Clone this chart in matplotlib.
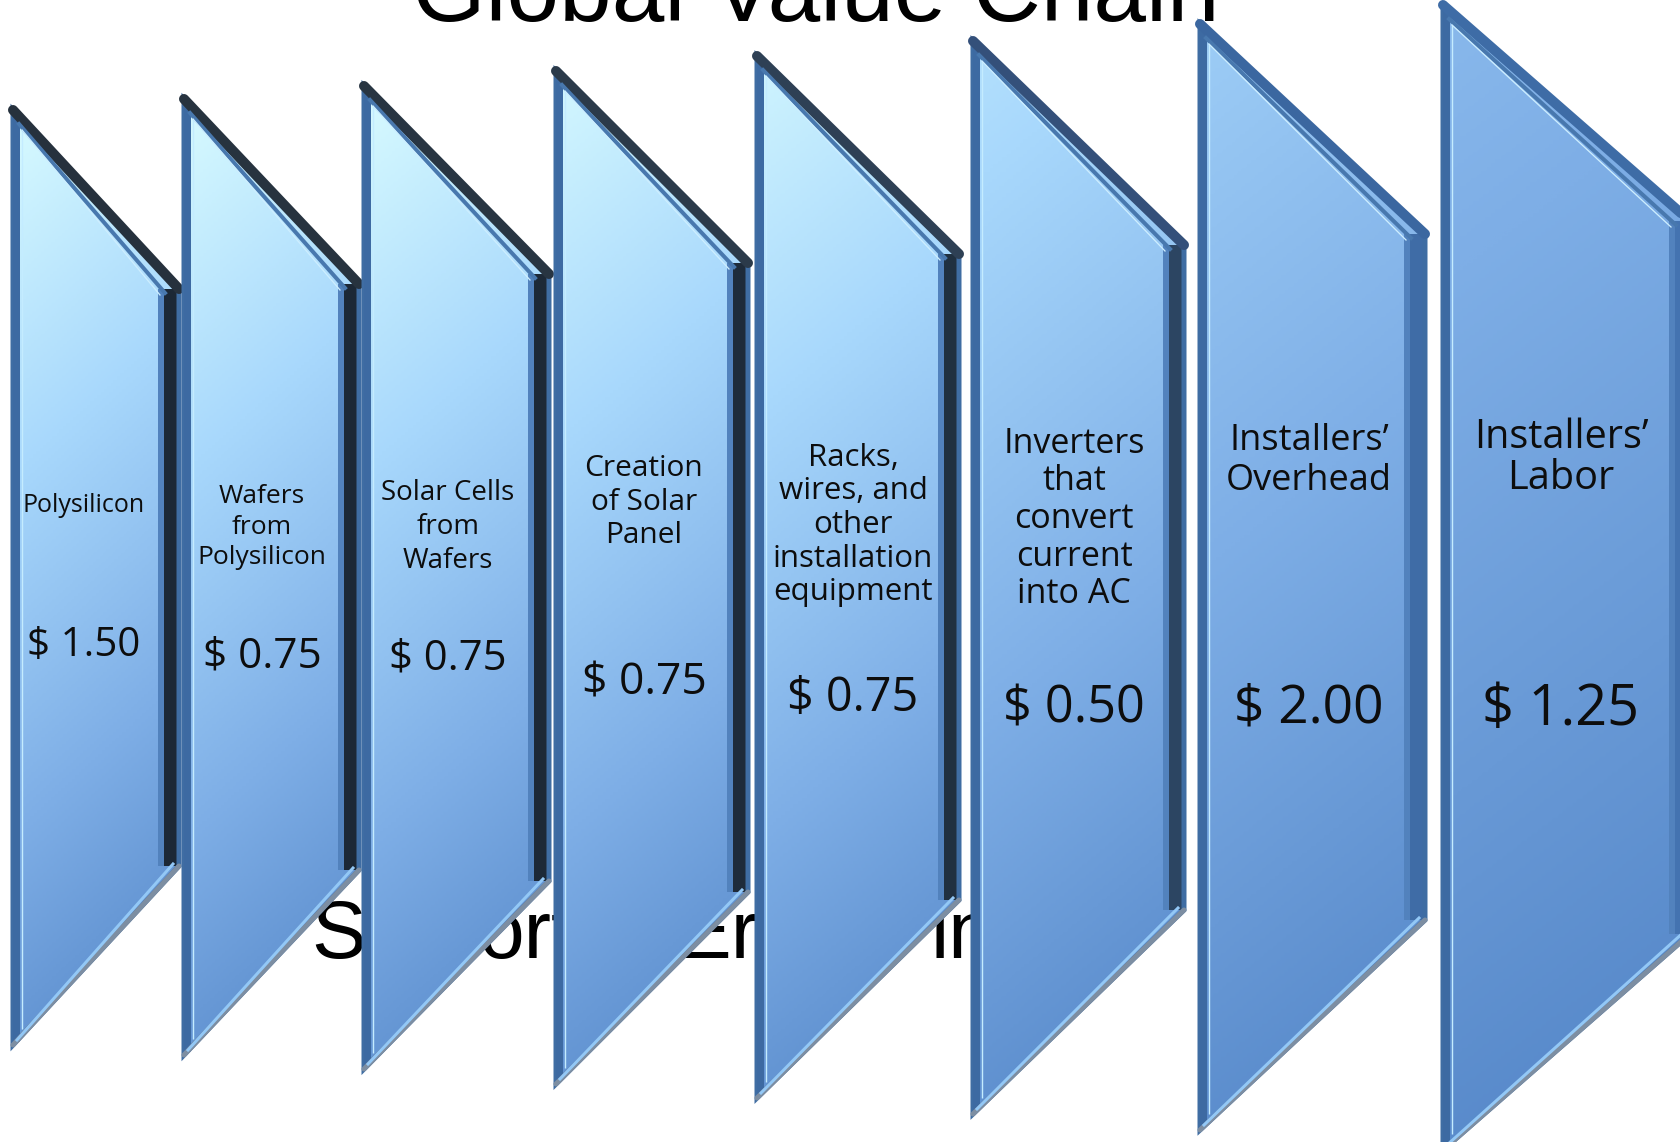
import numpy as np
import matplotlib.pyplot as plt
from matplotlib.patches import Polygon, Rectangle
from matplotlib.colors import LinearSegmentedColormap

# ---- data -------------------------------------------------------------
title = "Global Value Chain"
stages = [
    "Polysilicon",
    "Wafers\nfrom\nPolysilicon",
    "Solar Cells\nfrom\nWafers",
    "Creation\nof Solar\nPanel",
    "Racks,\nwires, and\nother\ninstallation\nequipment",
    "Inverters\nthat\nconvert\ncurrent\ninto AC",
    "Installers’\nOverhead",
    "Installers’\nLabor",
]
costs = [1.50, 0.75, 0.75, 0.75, 0.75, 0.50, 2.00, 1.25]
# slide body text showing through the gaps between the panels
hidden_bits = ["Su", "ort", "Er", "in"]

# ---- layout (pixels of a 1680x1142 canvas) ----------------------------
left = [13, 184, 364, 556, 757, 973, 1200, 1443]
right = [179, 359, 549, 748, 959, 1184, 1425, 1690]
top = [110, 99, 86, 71, 56, 41, 24, 5]
bottom = [1045, 1055, 1069, 1084, 1098, 1114, 1130, 1150]
slant = [179, 185, 188, 192, 198, 204, 210, 216]
label_x = [84, 262, 448, 644, 853, 1074, 1309, 1561]
label_y = [506, 527, 527, 502, 525, 519, 461, 458]
price_y = [646, 656, 658, 683, 698, 709, 709, 711]
label_size = [18, 19, 20, 21.5, 22.5, 24.5, 26, 28.5]
price_size = [29, 30.4, 30.2, 32, 33.7, 36.4, 38.3, 40.2]
line_sp = [1.2, 1.3, 1.3, 1.22, 1.16, 1.14, 1.13, 1.03]
shade0 = [0.0, 0.0, 0.0, 0.03, 0.06, 0.25, 0.42, 0.58]
strip_col = ["#1c2836", "#1c2836", "#1d2937", "#1e2b3a", "#203040",
             "#2c4562", "#3f6ca6", "#4473b0"]
topedge_col = ["#26313d", "#27333f", "#283542", "#2b3a4a", "#2e4055",
               "#34507a", "#3b67a0", "#3e6ca6"]
bit_x = [311, 478, 676, 930]
bit_y = 958

face = LinearSegmentedColormap.from_list(
    "face", ["#d8fbff", "#a8d8fc", "#7eaee6", "#5284c6"])

W, H = 1680, 1142
fig = plt.figure(figsize=(W / 100, H / 100), dpi=100)
ax = fig.add_axes([0, 0, 1, 1])
ax.set_xlim(0, W)
ax.set_ylim(H, 0)
ax.axis("off")

PX = 0.72  # points per pixel at 100 dpi

# title, mostly above the canvas
ax.text(W / 2 - 24, 21, title, ha="center", va="baseline", fontsize=68,
        family="Liberation Sans", color="black", zorder=0, clip_on=False)

for txt, bx in zip(hidden_bits, bit_x):
    ax.text(bx, bit_y, txt, ha="left", va="baseline", fontsize=59,
            family="Liberation Sans", color="black", zorder=0)

for i, (name, cost) in enumerate(zip(stages, costs)):
    xl, xr, yt, yb, s = left[i], right[i], top[i], bottom[i], slant[i]
    A, B, C, D = (xl, yt), (xr, yt + s), (xr, yb - s), (xl, yb)
    z = 2 + i

    # gradient face clipped to the panel outline
    patch = Polygon([A, B, C, D], closed=True, facecolor="none",
                    edgecolor="#3f6da3", lw=5 * PX, zorder=z + 0.3)
    ax.add_patch(patch)
    u, v = np.meshgrid(np.linspace(0, 1, 120), np.linspace(0, 1, 300))
    t = shade0[i] + (1 - shade0[i]) * (0.86 * v + 0.14 * u)
    im = ax.imshow(np.clip(t, 0, 1), cmap=face, vmin=0, vmax=1,
                   extent=(xl, xr, yb, yt), aspect="auto", zorder=z,
                   interpolation="bilinear")
    im.set_clip_path(patch)

    # right-hand bevel strip
    ax.add_patch(Rectangle((xr - 21, yt + s), 7, yb - yt - 2 * s,
                           color="#5282bd", zorder=z + 0.1, lw=0))
    ax.add_patch(Rectangle((xr - 15, yt + s), 15, yb - yt - 2 * s,
                           color=strip_col[i], zorder=z + 0.2, lw=0))

    # left bevel
    ax.plot([xl + 3, xl + 3], [yt + 4, yb - 4], color="#3d6aa2",
            lw=7 * PX, zorder=z + 0.4, solid_capstyle="butt")
    ax.plot([xl + 9, xl + 9], [yt + 16, yb - 16], color="#c4ecff",
            lw=1.4 * PX, zorder=z + 0.4, solid_capstyle="butt")

    # top slanted bevel
    ax.plot([A[0], B[0]], [A[1], B[1]], color=topedge_col[i], lw=10 * PX,
            zorder=z + 0.5, solid_capstyle="round")
    ax.plot([A[0] + 6, B[0] - 14], [A[1] + 14, B[1] + 4], color="#4878ae",
            lw=4 * PX, zorder=z + 0.5)
    ax.plot([A[0] + 9, B[0] - 19], [A[1] + 20, B[1] + 6], color="#cdeeff",
            lw=1.3 * PX, zorder=z + 0.5)

    # bottom slanted bevel
    ax.plot([D[0], C[0]], [D[1], C[1]], color="#7d8ea2", lw=5 * PX,
            zorder=z + 0.5, solid_capstyle="round")
    ax.plot([D[0] + 4, C[0] - 6], [D[1] - 5, C[1] - 2], color="#93c8f6",
            lw=3 * PX, zorder=z + 0.5)

    ax.text(label_x[i], label_y[i], name, ha="center", va="center",
            fontsize=label_size[i], family="Open Sans", color="#0d0d0d",
            linespacing=line_sp[i], zorder=z + 0.6)
    ax.text(label_x[i], price_y[i], f"$ {cost:.2f}", ha="center",
            va="center", fontsize=price_size[i], family="Open Sans",
            color="#0d0d0d", zorder=z + 0.6)

fig.savefig("out.png", dpi=100, facecolor="white")
